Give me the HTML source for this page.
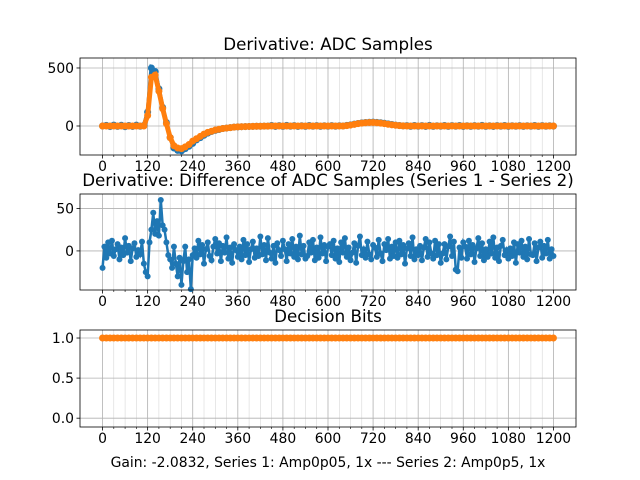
<!DOCTYPE html>
<html><head><meta charset="utf-8"><style>
body{margin:0;background:#fff}
svg{display:block;font-family:"DejaVu Sans","Liberation Sans",sans-serif}
</style></head><body>
<svg id="fig" width="640" height="480" xmlns="http://www.w3.org/2000/svg"></svg>
<script>
const xTicks=[0,120,240,360,480,600,720,840,960,1080,1200];
const topYTicks=[0,500];
const midYTicks=[0,50];
const botYTicks=[0.0,0.5,1.0];
// Series 1 derivative (blue), step 10 samples
const adcBlue=[0,5,-5,8,-3,6,-6,4,-4,7,-2,5,120,500,470,320,160,30,-100,-190,-210,-215,-195,-175,-150,-120,-100,-80,-62,-48,-38,-30,-22,-18,-14,-10,-8,-6,-5,-4,-3,-2,-2,-1,-1,4,-4,3,-3,5,-2,3,-4,2,-3,4,-2,3,-3,2,-2,3,-2,2,0,5,10,16,22,27,30,32,33,31,28,24,18,13,8,4,1,3,-3,4,-2,3,-4,5,-3,2,-2,4,-3,3,-2,4,-4,2,-3,3,-2,5,-3,2,-4,3,-2,4,-3,2,-2,3,-3,2,-2,4,-3,3,-2,2,-1];
// Series 2 derivative (orange), step 10 samples
const adcOrange=[0,0,0,0,0,0,0,0,0,0,0,0,90,420,440,300,150,20,-100,-170,-190,-195,-180,-160,-130,-110,-90,-70,-55,-45,-35,-28,-22,-18,-14,-10,-8,-6,-5,-4,-3,-2,-2,-1,-1,0,0,0,0,0,0,0,0,0,0,0,0,0,0,0,0,0,0,0,0,3,8,14,20,25,28,30,30,28,25,20,15,10,6,3,1,0,0,0,0,0,0,0,0,0,0,0,0,0,0,0,0,0,0,0,0,0,0,0,0,0,0,0,0,0,0,0,0,0,0,0,0,0,0,0,0];
// Difference (series 1 - series 2), step 5 samples
const diffVals=[-20,5,-8,10,-3,12,-6,2,8,-10,4,-5,15,-2,6,-12,3,9,-7,1,-4,11,-15,-25,
-30,10,25,45,20,35,18,60,30,25,10,-5,
-10,-20,5,-15,-30,-8,-40,-12,5,-25,-10,-45,-5,
3,-8,12,-4,7,-15,2,10,-6,-11,5,14,
-3,9,-12,6,-2,16,-9,4,-14,8,1,-7,
5,-10,13,-5,8,-13,2,11,-8,3,-6,17,
-4,7,-11,15,-2,-9,6,-14,9,1,-6,12,
2,-12,8,-3,14,-7,5,-10,18,-4,6,-9,
-6,10,-2,13,-11,4,-8,16,-3,7,-12,5,
8,-5,12,-9,3,-13,10,-2,15,-7,4,-11,
-2,9,-14,6,17,-5,2,-8,11,-4,-10,7,
4,-7,13,-3,-12,8,1,14,-9,5,-6,10,
-8,12,-4,7,-15,3,9,-6,16,-10,2,-5,
6,-11,4,14,-7,10,-3,-9,12,-5,8,-14,
-3,8,-10,5,17,-6,11,-22,-24,4,-8,10,
5,-9,12,-4,7,-13,3,15,-6,9,-11,2,
-7,11,-3,16,-8,4,-12,6,13,-5,1,-9,
3,-6,10,-14,8,-2,12,-7,5,-10,14,-4,
-5,9,-12,4,11,-8,6,-3,13,-9,2,-6];
// Decision bits, step 10 samples
const bitVals=[1,1,1,1,1,1,1,1,1,1,1,1,1,1,1,1,1,1,1,1,1,1,1,1,1,1,1,1,1,1,1,1,1,1,1,1,1,1,1,1,1,1,1,1,1,1,1,1,1,1,1,1,1,1,1,1,1,1,1,1,1,1,1,1,1,1,1,1,1,1,1,1,1,1,1,1,1,1,1,1,1,1,1,1,1,1,1,1,1,1,1,1,1,1,1,1,1,1,1,1,1,1,1,1,1,1,1,1,1,1,1,1,1,1,1,1,1,1,1,1,1,1];

const NS="http://www.w3.org/2000/svg";
const svg=document.getElementById('fig');
function el(tag,attrs,parent){const e=document.createElementNS(NS,tag);for(const k in attrs)e.setAttribute(k,attrs[k]);(parent||svg).appendChild(e);return e;}
const L=80,R=576;
const xs=v=>L+(v+60)/1320*(R-L);

function panel(name,top,bot,ymin,ymax,yticks,fmt,title,titleY){
  const g=el('g',{});
  
  
  const ys=v=>bot-(v-ymin)/(ymax-ymin)*(bot-top);
  for(let v=30;v<1200;v+=30){ if(v%120===0)continue;
    const m=el('line',{x1:xs(v),x2:xs(v),y1:top,y2:bot,stroke:'#b0b0b0','stroke-width':0.5,opacity:0.6},g);
    
    
    el('line',{x1:xs(v),x2:xs(v),y1:bot,y2:bot+2,stroke:'#000','stroke-width':0.6},g);
  }
  xTicks.forEach(v=>{
    el('line',{x1:xs(v),x2:xs(v),y1:top,y2:bot,stroke:'#b0b0b0','stroke-width':0.8},g);
    el('line',{x1:xs(v),x2:xs(v),y1:bot,y2:bot+3.5,stroke:'#000','stroke-width':0.8},g);
    const t=el('text',{x:xs(v),y:bot+16,'font-size':13.9,'text-anchor':'middle'},g);
    t.textContent=v;
    
    
  });
  yticks.forEach(v=>{
    el('line',{x1:L,x2:R,y1:ys(v),y2:ys(v),stroke:'#b0b0b0','stroke-width':0.8},g);
    el('line',{x1:L-3.5,x2:L,y1:ys(v),y2:ys(v),stroke:'#000','stroke-width':0.8},g);
    const t=el('text',{x:L-6,y:ys(v)+5,'font-size':13.9,'text-anchor':'end'},g);
    t.textContent=fmt(v);
    
    
  });
  const tt=el('text',{x:(L+R)/2,y:titleY,'font-size':16.7,'text-anchor':'middle'});
  tt.textContent=title;
  
  
  return {g,ys};
}
function series(p,vals,step,color,name,r,lw){
  const g=el('g',{},p.g);
  
  
  const pts=vals.map((v,i)=>[i*step,v]).filter(q=>q[0]<=1200).map(q=>[xs(q[0]),p.ys(q[1])]);
  el('polyline',{points:pts.map(q=>q.join(',')).join(' '),fill:'none',stroke:color,'stroke-width':lw},g);
  pts.forEach(q=>{el('circle',{cx:q[0],cy:q[1],r:r,fill:color},g);});
}
function frame(p,top,bot){el('rect',{x:L,y:top,width:R-L,height:bot-top,fill:'none',stroke:'#000','stroke-width':0.8},p.g);}

const p1=panel('adc-samples-panel',58,155,-250,586,topYTicks,v=>v,'Derivative: ADC Samples',50);
series(p1,adcBlue,10,'#1f77b4','series-1-adc',3.5,4);
series(p1,adcOrange,10,'#ff7f0e','series-2-adc',3.5,5);
frame(p1,58,155);
const p2=panel('difference-panel',194,290,-46,67,midYTicks,v=>v,'Derivative: Difference of ADC Samples (Series 1 - Series 2)',186);
series(p2,diffVals,5,'#1f77b4','difference-series',3,2.5);
frame(p2,194,290);
const p3=panel('decision-bits-panel',330,427,-0.11,1.1,botYTicks,v=>v.toFixed(1),'Decision Bits',322);
series(p3,bitVals,10,'#ff7f0e','decision-bits-series',3.5,4);
frame(p3,330,427);
const xl=el('text',{x:(L+R)/2,y:467,'font-size':13.9,'text-anchor':'middle'});
xl.textContent='Gain: -2.0832, Series 1: Amp0p05, 1x --- Series 2: Amp0p5, 1x';


</script>
</body></html>
